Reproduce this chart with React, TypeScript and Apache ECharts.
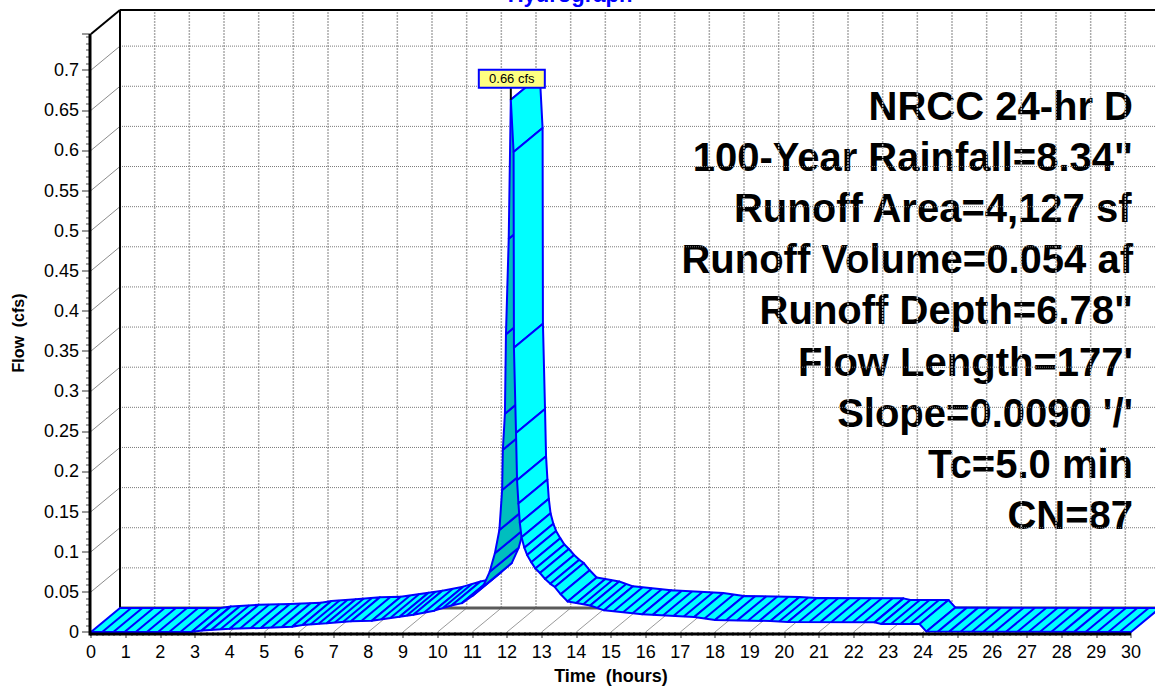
import React, { useEffect, useRef } from 'react';
import * as echarts from 'echarts';

// Hydrograph (front edge of the ribbon)
const TIME_HOURS = [
  0, 2.9, 3.2, 4.0, 4.9, 5.8, 6.1, 6.8, 7.5, 8.1, 8.9, 9.3, 9.9, 10.4, 10.7, 11.0,
  11.3, 11.5, 11.65, 11.78, 11.86, 11.88, 11.94, 11.97, 12.05, 12.11, 12.19, 12.2,
  12.26, 12.29, 12.33, 12.37, 12.42, 12.5, 12.58, 12.7, 12.82, 12.95, 13.1, 13.25,
  13.38, 13.55, 13.75, 14.0, 14.4, 14.8, 15.9, 17.4, 18.0, 19.6, 20.1, 22.6, 22.8,
  23.9, 24.1, 30,
];
const FLOW_CFS = [
  0, 0, 0.002, 0.004, 0.005, 0.0066, 0.0087, 0.011, 0.0133, 0.014, 0.019, 0.0216,
  0.0266, 0.033, 0.036, 0.045, 0.056, 0.075, 0.098, 0.127, 0.177, 0.227, 0.272,
  0.371, 0.49, 0.663, 0.598, 0.354, 0.248, 0.189, 0.16, 0.136, 0.118, 0.105, 0.096,
  0.087, 0.079, 0.0735, 0.066, 0.06, 0.056, 0.047, 0.038, 0.036, 0.033, 0.027,
  0.022, 0.0187, 0.015, 0.0137, 0.0125, 0.012, 0.01, 0.01, 0.0005, 0,
];

const X_MIN = 0;
const X_MAX = 30;
const X_STEP = 1;
const Y_MIN = 0;
const Y_MAX = 0.745;
const Y_STEP = 0.05;
const HATCH_STEP_HOURS = 1 / 3;

const TITLE = 'Hydrograph';
const X_NAME = 'Time  (hours)';
const Y_NAME = 'Flow  (cfs)';
const PEAK_UNIT = 'cfs';
const INFO_LINES = [
  'NRCC 24-hr D',
  '100-Year Rainfall=8.34"',
  'Runoff Area=4,127 sf',
  'Runoff Volume=0.054 af',
  'Runoff Depth=6.78"',
  "Flow Length=177'",
  "Slope=0.0090 '/'",
  'Tc=5.0 min',
  'CN=87',
];

// depth offset of the pseudo-3D back plane (pixels)
const DX = 29;
const DY = -24;

const FONT = '"Liberation Sans", Arial, sans-serif';
const BLUE = '#0000FF';
const CYAN = '#00FFFF';
const TEAL = '#00BEBE';

export default function App() {
  const ref = useRef<HTMLDivElement>(null);

  useEffect(() => {
    document.body.style.margin = '0';
    if (!ref.current) return;
    const chart = echarts.init(ref.current, undefined, { renderer: 'svg' });

    const renderItem = (params: any, api: any) => {
      const children: any[] = [];
      const c = (t: number, q: number) => api.coord([t, q]) as number[];
      const off = (p: number[]) => [p[0] + DX, p[1] + DY];
      const line = (p1: number[], p2: number[], style: any) =>
        children.push({
          type: 'line',
          silent: true,
          shape: { x1: p1[0], y1: p1[1], x2: p2[0], y2: p2[1] },
          style: { fill: null, ...style },
        });

      const yTicks: number[] = [];
      for (let v = Y_MIN + Y_STEP; v <= Y_MAX + 1e-9; v += Y_STEP) yTicks.push(+v.toFixed(4));
      const xTicks: number[] = [];
      for (let v = X_MIN; v <= X_MAX + 1e-9; v += X_STEP) xTicks.push(v);

      // back wall vertical grid
      xTicks.forEach((h) => {
        if (h === X_MIN) return;
        line(off(c(h, Y_MIN)), off(c(h, Y_MAX)), { stroke: '#ababab', lineWidth: 1.5, lineDash: [2, 1] });
      });
      // back wall horizontal grid
      yTicks.forEach((q) => {
        line(off(c(X_MIN, q)), off(c(X_MAX, q)), { stroke: '#7a7a7a', lineWidth: 1, lineDash: [1, 1] });
      });
      // left wall diagonals
      yTicks.forEach((q) => {
        line(c(X_MIN, q), off(c(X_MIN, q)), { stroke: '#8c8c8c', lineWidth: 1 });
      });
      // floor diagonals
      xTicks.forEach((h) => {
        if (h === X_MIN) return;
        line(c(h, Y_MIN), off(c(h, Y_MIN)), { stroke: '#9a9a9a', lineWidth: 1 });
      });
      // floor back edge
      line(off(c(X_MIN, Y_MIN)), off(c(X_MAX, Y_MIN)), { stroke: '#5a5a5a', lineWidth: 3 });
      // wall frame
      line(off(c(X_MIN, Y_MIN)), off(c(X_MIN, Y_MAX)), { stroke: '#000', lineWidth: 2 });
      line(off(c(X_MIN, Y_MAX)), off(c(X_MAX, Y_MAX)), { stroke: '#000', lineWidth: 2 });
      line(c(X_MIN, Y_MAX), off(c(X_MIN, Y_MAX)), { stroke: '#000', lineWidth: 2 });

      // ribbon
      const pts = TIME_HOURS.map((t, i) => c(t, FLOW_CFS[i]));
      for (let i = 0; i < pts.length - 1; i++) {
        const f0 = pts[i];
        const f1 = pts[i + 1];
        const b0 = off(f0);
        const b1 = off(f1);
        const ex = f1[0] - f0[0];
        const ey = f1[1] - f0[1];
        const cross = ex * DY - ey * DX;
        children.push({
          type: 'polygon',
          silent: true,
          shape: { points: [f0, f1, b1, b0] },
          style: { fill: cross > 0 ? TEAL : CYAN, stroke: BLUE, lineWidth: 2, lineJoin: 'round' },
        });
        const dt = TIME_HOURS[i + 1] - TIME_HOURS[i];
        const n = Math.max(1, Math.ceil(dt / HATCH_STEP_HOURS - 1e-6));
        for (let k = 1; k < n; k++) {
          const a = k / n;
          const fp = [f0[0] + ex * a, f0[1] + ey * a];
          line(fp, off(fp), { stroke: BLUE, lineWidth: 2 });
        }
      }

      // front axes
      const o = c(X_MIN, Y_MIN);
      const xe = c(X_MAX, Y_MIN);
      const yt = c(X_MIN, Y_MAX);
      line([o[0] - 1, o[1] + 2], [xe[0], xe[1] + 2], { stroke: '#000', lineWidth: 3 });
      line([o[0] - 1, o[1] + 3.5], [yt[0] - 1, yt[1]], { stroke: '#000', lineWidth: 3 });

      // peak label
      let pi = 0;
      FLOW_CFS.forEach((q, i) => {
        if (q > FLOW_CFS[pi]) pi = i;
      });
      const pk = pts[pi];
      line([pk[0], pk[1] - 12], pk, { stroke: '#000', lineWidth: 2 });
      children.push({
        type: 'rect',
        silent: true,
        shape: { x: pk[0] - 32, y: pk[1] - 30, width: 66, height: 18 },
        style: { fill: '#FFFF80', stroke: BLUE, lineWidth: 2 },
      });
      children.push({
        type: 'text',
        silent: true,
        x: pk[0] + 1,
        y: pk[1] - 21,
        style: {
          text: `${FLOW_CFS[pi].toFixed(2)} ${PEAK_UNIT}`,
          font: `13px ${FONT}`,
          fill: '#000',
          align: 'center',
          verticalAlign: 'middle',
        },
      });

      return { type: 'group', children };
    };

    const infoGraphics = INFO_LINES.map((s, i) => ({
      type: 'text',
      right: 22,
      top: 109 + i * 51.1 - 23,
      style: {
        text: s,
        font: `bold 40px ${FONT}`,
        fill: '#000',
      },
    }));

    chart.setOption({
      animation: false,
      grid: { left: 91, right: 24, top: 34, bottom: 56, containLabel: false },
      xAxis: {
        type: 'value',
        min: X_MIN,
        max: X_MAX,
        interval: X_STEP,
        axisLine: { show: false },
        axisTick: { show: true, length: 6, lineStyle: { color: '#777', width: 1.5 } },
        minorTick: { show: true, splitNumber: 6, length: 4, lineStyle: { color: '#888', width: 1.5 } },
        splitLine: { show: false },
        axisLabel: { fontSize: 18, color: '#000', margin: 11, fontFamily: FONT },
      },
      yAxis: {
        type: 'value',
        min: Y_MIN,
        max: Y_MAX,
        interval: Y_STEP,
        axisLine: { show: false },
        axisTick: { show: true, length: 9, lineStyle: { color: '#777', width: 1.5 } },
        minorTick: { show: true, splitNumber: 6, length: 5, lineStyle: { color: '#888', width: 1.5 } },
        splitLine: { show: false },
        axisLabel: { fontSize: 18, color: '#000', margin: 12, fontFamily: FONT, showMaxLabel: false },
      },
      graphic: [
        {
          type: 'text',
          x: 570,
          y: 5,
          style: {
            text: TITLE,
            font: `bold 22px ${FONT}`,
            fill: BLUE,
            align: 'center',
            verticalAlign: 'bottom',
            textAlign: 'center',
            textVerticalAlign: 'bottom',
          },
        },
        {
          type: 'text',
          x: 611,
          y: 676,
          style: {
            text: X_NAME,
            font: `bold 18px ${FONT}`,
            fill: '#000',
            align: 'center',
            verticalAlign: 'middle',
            textAlign: 'center',
            textVerticalAlign: 'middle',
          },
        },
        {
          type: 'text',
          x: 18,
          y: 333,
          rotation: Math.PI / 2,
          style: {
            text: Y_NAME,
            font: `bold 16px ${FONT}`,
            fill: '#000',
            align: 'center',
            verticalAlign: 'middle',
            textAlign: 'center',
            textVerticalAlign: 'middle',
          },
        },
        ...infoGraphics,
      ],
      series: [
        {
          type: 'custom',
          coordinateSystem: 'cartesian2d',
          clip: false,
          silent: true,
          data: [[X_MIN, Y_MIN]],
          renderItem,
          z: 5,
        },
      ],
    });

    return () => chart.dispose();
  }, []);

  return <div ref={ref} style={{ width: 1155, height: 688 }} />;
}
